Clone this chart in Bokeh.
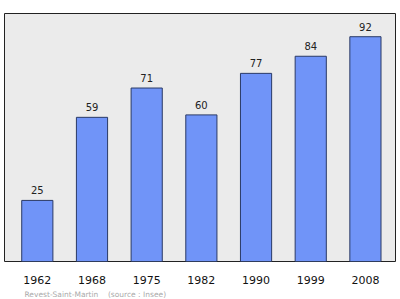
from bokeh.plotting import figure
from bokeh.models import ColumnDataSource, FixedTicker, Range1d, Title
from bokeh.core.properties import value
from bokeh.embed import file_html
from bokeh.resources import INLINE

# Population census of Revest-Saint-Martin
years = ["1962", "1968", "1975", "1982", "1990", "1999", "2008"]
population = [25, 59, 71, 60, 77, 84, 92]

idx = list(range(len(years)))
src = ColumnDataSource(dict(x=idx, y=population, lbl=[str(v) for v in population]))

p = figure(width=400, height=299, output_backend="svg", toolbar_location=None,
           x_range=Range1d(-0.6, 6.55), y_range=Range1d(0, 101.5),
           min_border_left=4, min_border_right=5, min_border_top=13, min_border_bottom=35)

p.background_fill_color = "#ebebeb"
p.border_fill_color = "white"
p.outline_line_color = "#222222"
p.outline_line_width = 1
p.xgrid.visible = False
p.ygrid.visible = False
p.yaxis.visible = False

p.vbar(x="x", top="y", width=0.57, source=src,
       fill_color="#7094f8", line_color="#2a3a66", line_width=1)
p.text(x="x", y="y", text="lbl", source=src, text_align="center",
       text_baseline="bottom", y_offset=-6, text_font_size="10px",
       text_font=value("DejaVu Sans"), text_color="#222222")

xa = p.xaxis[0]
xa.ticker = FixedTicker(ticks=idx)
xa.major_label_overrides = {i: y for i, y in enumerate(years)}
xa.axis_line_color = None
xa.major_tick_line_color = None
xa.minor_tick_line_color = None
xa.major_label_text_font = "DejaVu Sans"
xa.major_label_text_font_size = "11px"
xa.major_label_text_color = "#111111"
xa.major_label_standoff = 8

p.add_layout(Title(text="Revest-Saint-Martin\u00a0\u00a0\u00a0\u00a0(source\u00a0:\u00a0Insee)",
                   align="left", text_font_size="7.5px", text_font_style="normal",
                   text_color="#aaaaaa", text_font="DejaVu Sans",
                   offset=20, standoff=2), "below")

open("out.html", "w").write(file_html(p, INLINE))
